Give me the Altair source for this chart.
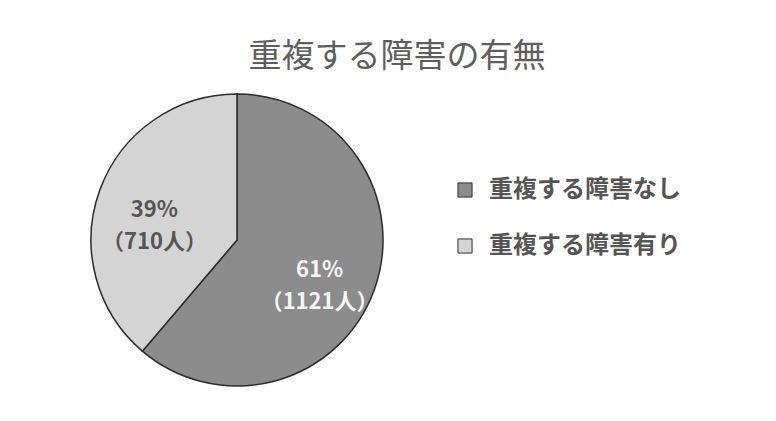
import altair as alt
import pandas as pd

categories = ["重複する障害なし", "重複する障害有り"]
counts = [1121, 710]
percents = [61, 39]
colors = ["#8c8c8c", "#d4d4d4"]

df = pd.DataFrame({
    "cat": categories,
    "count": counts,
    "idx": list(range(len(categories))),
    "label": [f"{p}%\n（{c}人）" for p, c in zip(percents, counts)],
})

FONT = "Noto Sans CJK JP"
cx, cy = 229, 162

base = alt.Chart(df).encode(
    theta=alt.Theta("count:Q", stack=True),
    order=alt.Order("idx:Q"),
    x=alt.value(cx),
    y=alt.value(cy),
)

pie = base.mark_arc(outerRadius=146, stroke="#2b2b2b", strokeWidth=1.5).encode(
    color=alt.Color(
        "cat:N",
        scale=alt.Scale(domain=categories, range=colors),
        sort=categories,
        legend=alt.Legend(
            title=None,
            orient="none",
            legendX=445,
            legendY=100,
            symbolType="square",
            symbolSize=200,
            symbolStrokeColor="#333333",
            symbolStrokeWidth=1,
            labelFont=FONT,
            labelFontSize=24,
            labelFontWeight="bold",
            labelColor="#555555",
            labelOffset=12,
            rowPadding=32,
            labelLimit=400,
        ),
    )
)

text = base.mark_text(
    radius=88, font="Noto Sans CJK SC", fontSize=22, fontWeight="bold", lineBreak="\n", lineHeight=32
).encode(
    text="label:N",
    color=alt.condition(alt.datum.idx == 0, alt.value("#f7f7f7"), alt.value("#555555")),
)

chart = (
    alt.layer(pie, text)
    .properties(
        width=760,
        height=335,
        autosize=alt.AutoSizeParams(type="none"),
        padding={"top": 70, "left": 0, "right": 0, "bottom": 0},
        title=alt.Title(
            "重複する障害の有無",
            font=FONT,
            fontSize=33,
            fontWeight="normal",
            color="#5e5e5e",
            anchor="middle",
            dx=9,
            offset=4,
        ),
        background="white",
    )
    .configure_view(stroke=None)
)

chart.save("out.html", embed_options={"renderer": "svg", "actions": False})
